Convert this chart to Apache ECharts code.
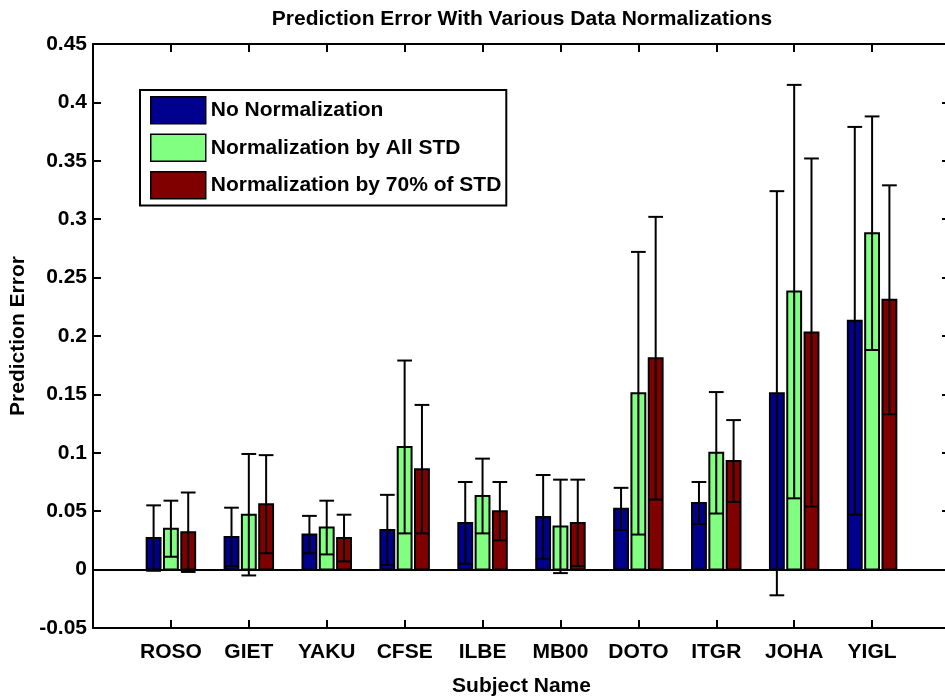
<!DOCTYPE html>
<html>
<head>
<meta charset="utf-8">
<script src="https://cdn.jsdelivr.net/npm/echarts@6/dist/echarts.min.js"></script>
<style>
html,body{margin:0;padding:0;background:#fff;}
#chart{width:945px;height:698px;}
</style>
</head>
<body>
<div id="chart"></div>
<script>
// ---- data ----
const categories = ['ROSO','GIET','YAKU','CFSE','ILBE','MB00','DOTO','ITGR','JOHA','YIGL'];
const seriesNames = ['No Normalization','Normalization by All STD','Normalization by 70% of STD'];
const noNorm      = [0.027,0.028,0.030,0.034,0.040,0.045,0.052,0.057,0.151,0.213];
const noNormErr   = [0.028,0.025,0.016,0.030,0.035,0.036,0.018,0.018,0.173,0.166];
const allStd      = [0.035,0.047,0.036,0.105,0.063,0.037,0.151,0.100,0.238,0.288];
const allStdErr   = [0.024,0.052,0.023,0.074,0.032,0.040,0.121,0.052,0.177,0.100];
const std70       = [0.032,0.056,0.027,0.086,0.050,0.040,0.181,0.093,0.203,0.231];
const std70Err    = [0.034,0.042,0.020,0.055,0.025,0.037,0.121,0.035,0.149,0.098];
const yTicks = [-0.05,0,0.05,0.1,0.15,0.2,0.25,0.3,0.35,0.4,0.45];

// ---- style / layout ----
const COLORS = ['#00008F','#80FF80','#800000'];
const OFFSETS = [-0.2222, 0, 0.2222];
const BAR_W = 0.178;
const CAP_HALF = 0.0945;
const FONT = 'Arial, "Liberation Sans", Helvetica, sans-serif';
const FS = 21;

const values = [noNorm, allStd, std70];
const errors = [noNormErr, allStdErr, std70Err];

function makeRender(si) {
  return function (params, api) {
    const x = api.value(0), v = api.value(1), e = api.value(2);
    const cx = x + OFFSETS[si];
    const tl = api.coord([cx - BAR_W / 2, v]);
    const br = api.coord([cx + BAR_W / 2, 0]);
    const top = api.coord([cx, v + e]);
    const bot = api.coord([cx, v - e]);
    const capL = api.coord([cx - CAP_HALF, 0])[0];
    const capR = api.coord([cx + CAP_HALF, 0])[0];
    const ls = { stroke: '#000', lineWidth: 2 };
    return {
      type: 'group',
      children: [
        { type: 'rect', shape: { x: tl[0], y: Math.min(tl[1], br[1]), width: br[0] - tl[0], height: Math.abs(br[1] - tl[1]) },
          style: { fill: COLORS[si], stroke: '#000', lineWidth: 2 } },
        { type: 'line', shape: { x1: top[0], y1: top[1], x2: bot[0], y2: bot[1] }, style: ls },
        { type: 'line', shape: { x1: capL, y1: top[1], x2: capR, y2: top[1] }, style: ls },
        { type: 'line', shape: { x1: capL, y1: bot[1], x2: capR, y2: bot[1] }, style: ls }
      ]
    };
  };
}

const series = seriesNames.map((name, si) => ({
  type: 'custom',
  name: name,
  xAxisIndex: 0,
  yAxisIndex: 0,
  renderItem: makeRender(si),
  itemStyle: { color: COLORS[si] },
  encode: { x: 0, y: 1 },
  data: categories.map((c, i) => [i + 1, values[si][i], errors[si][i]]),
  clip: false,
  z: 2
}));
series[0].markLine = {
  silent: true,
  symbol: 'none',
  label: { show: false },
  lineStyle: { color: '#000', width: 2, type: 'solid' },
  data: [{ yAxis: 0 }],
  z: 1
};

const axisLine = { show: true, onZero: false, lineStyle: { color: '#000', width: 2 } };
const tick = { show: true, inside: true, length: 8, lineStyle: { color: '#000', width: 2 } };
const txt = { color: '#000', fontSize: FS, fontWeight: 'bold', fontFamily: FONT };

const chart = echarts.init(document.getElementById('chart'), null, { renderer: 'canvas' });
chart.setOption({
  backgroundColor: '#fff',
  animation: false,
  grid: { left: 93, top: 44, width: 857, height: 584, containLabel: false, outerBoundsMode: 'none' },
  legend: {
    orient: 'vertical',
    left: 140, top: 90,
    itemWidth: 55, itemHeight: 27, itemGap: 9,
    padding: [6, 5, 6, 10],
    backgroundColor: '#fff',
    borderColor: '#000', borderWidth: 2, borderRadius: 0,
    icon: 'rect',
    itemStyle: { borderColor: '#000', borderWidth: 1.5 },
    textStyle: Object.assign({}, txt, { padding: [6, 0, 0, 0] }),
    data: seriesNames,
    selectedMode: false
  },
  xAxis: [
    { type: 'value', position: 'bottom', min: 0, max: 11, interval: 1,
      axisLine: axisLine, axisTick: tick, splitLine: { show: false },
      axisLabel: Object.assign({ margin: 14, formatter: v => categories[v - 1] || '' }, txt),
      name: 'Subject Name', nameLocation: 'middle', nameGap: 48, nameTextStyle: txt },
    { type: 'value', position: 'top', min: 0, max: 11, interval: 1,
      axisLine: axisLine, axisTick: tick, splitLine: { show: false }, axisLabel: { show: false } }
  ],
  yAxis: [
    { type: 'value', position: 'left', min: yTicks[0], max: yTicks[yTicks.length - 1], interval: 0.05,
      axisLine: axisLine, axisTick: tick, splitLine: { show: false },
      axisLabel: Object.assign({ margin: 6, formatter: v => String(parseFloat(v.toFixed(2))) }, txt),
      name: 'Prediction Error', nameLocation: 'middle', nameGap: 58, nameTextStyle: txt },
    { type: 'value', position: 'right', min: yTicks[0], max: yTicks[yTicks.length - 1], interval: 0.05,
      axisLine: axisLine, axisTick: tick, splitLine: { show: false }, axisLabel: { show: false } }
  ],
  graphic: [
    { type: 'text', x: 522, y: 19,
      style: { text: 'Prediction Error With Various Data Normalizations', fill: '#000',
        font: 'bold ' + FS + 'px ' + FONT, textAlign: 'center', textVerticalAlign: 'middle' } }
  ],
  series: series
});
</script>
</body>
</html>
